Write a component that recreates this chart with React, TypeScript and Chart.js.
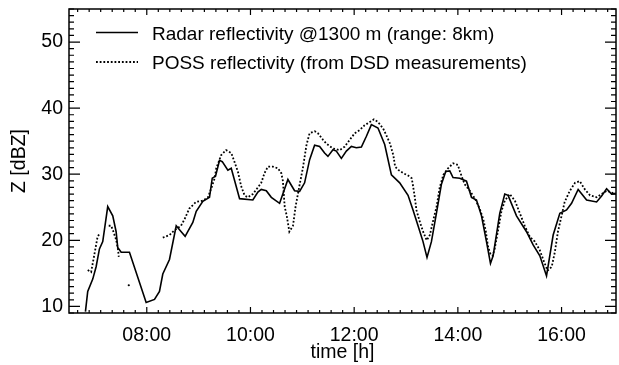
import { useEffect, useRef } from "react";
import { Chart, registerables } from "chart.js";

Chart.register(...registerables);

// ---- data (time in decimal hours, reflectivity in dBZ) ----
const radarTimes = [
  6.817, 6.861, 6.958, 7.023, 7.087, 7.151, 7.247, 7.344, 7.409, 7.44, 7.506, 7.666,
  7.988, 8.149, 8.245, 8.309, 8.438, 8.568, 8.664, 8.74, 8.888, 8.954, 9.081, 9.21,
  9.263, 9.326, 9.403, 9.456, 9.564, 9.629, 9.79, 10.046, 10.143, 10.208, 10.305,
  10.402, 10.562, 10.722, 10.851, 10.948, 11.044, 11.141, 11.237, 11.334, 11.43,
  11.494, 11.591, 11.656, 11.753, 11.849, 11.946, 12.042, 12.139, 12.236, 12.332,
  12.459, 12.589, 12.718, 12.878, 13.039, 13.135, 13.232, 13.328, 13.405, 13.49,
  13.587, 13.683, 13.766, 13.844, 13.907, 14.037, 14.166, 14.263, 14.359, 14.456,
  14.552, 14.629, 14.68, 14.809, 14.905, 14.969, 15.131, 15.324, 15.452, 15.581,
  15.71, 15.838, 15.967, 16.097, 16.193, 16.32, 16.483, 16.676, 16.772, 16.869,
  16.965, 17.048,
];
const radarValues = [
  9.2, 12.25, 14.13, 16.0, 18.7, 19.8, 25.1, 23.7, 21.3, 18.9, 18.2, 18.2,
  10.6, 11.05, 12.25, 14.9, 17.1, 22.2, 21.3, 20.6, 22.7, 24.4, 25.9, 26.5,
  29.4, 29.7, 32.1, 31.9, 30.6, 30.9, 26.3, 26.1, 27.3, 27.7, 27.5,
  26.5, 25.6, 29.2, 27.5, 27.4, 28.7, 32.2, 34.4, 34.2, 33.2,
  32.7, 33.7, 33.5, 32.4, 33.5, 34.2, 34.0, 34.1, 35.75, 37.5,
  37.0, 34.5, 29.9, 28.7, 26.8, 24.6, 22.2, 19.8, 17.4, 19.8,
  24.1, 28.5, 30.4, 30.5, 29.5, 29.4, 28.95, 26.5, 26.1, 23.7,
  19.8, 16.5, 17.65, 24.1, 27.0, 26.8, 23.7, 21.3, 19.3, 17.65,
  14.6, 20.8, 24.1, 24.6, 25.6, 27.7, 26.1, 25.8, 26.7, 27.8,
  27.0, 27.1,
];

const possTimes = [
  6.861, 6.927, 7.023, 7.05, 7.087, 7.17, 7.266, 7.313, 7.357, 7.409, 7.448, 7.46,
  7.55, 7.653, 7.8, 8.309, 8.44, 8.53, 8.66, 8.73, 8.82, 8.95, 9.08, 9.18, 9.25,
  9.31, 9.34, 9.436, 9.53, 9.63, 9.69, 9.757, 9.82, 9.886, 9.95, 10.046, 10.143,
  10.208, 10.27, 10.336, 10.43, 10.53, 10.595, 10.626, 10.66, 10.7, 10.75, 10.82,
  10.87, 10.915, 10.95, 11.01, 11.08, 11.14, 11.24, 11.3, 11.4, 11.46, 11.59,
  11.72, 11.815, 11.91, 12.01, 12.11, 12.2, 12.3, 12.38, 12.46, 12.56, 12.62,
  12.69, 12.755, 12.79, 12.85, 12.95, 13.04, 13.11, 13.14, 13.17, 13.2, 13.27,
  13.33, 13.4, 13.46, 13.53, 13.59, 13.65, 13.72, 13.81, 13.91, 14.0, 14.04,
  14.13, 14.23, 14.33, 14.42, 14.49, 14.54, 14.58, 14.63, 14.67, 14.71, 14.78,
  14.84, 14.905, 15.0, 15.1, 15.195, 15.29, 15.39, 15.485, 15.58, 15.66, 15.73,
  15.81, 15.87, 15.93, 16.0, 16.06, 16.16, 16.26, 16.35, 16.45, 16.55, 16.68,
  16.77, 16.87, 16.97, 17.048,
];
const possValues: (number | null)[] = [
  15.5, 15.2, 19.3, 20.5, 21.0, null, 22.2, 22.2, 21.3, 20.1, 18.5, 17.5,
  null, 13.2, null, 20.4, 20.8, 21.5, 22.2, 23.2, 24.8, 25.8, 26.0, 26.5, 28.0,
  29.4, 30.9, 32.9, 33.65, 33.2, 31.9, 30.4, 28.2, 26.8, 26.5, 27.0, 28.0,
  28.7, 30.15, 31.15, 31.15, 30.9, 30.15, 28.95, 25.1, 23.7, 21.3, 22.2,
  25.1, 27.0, 28.5, 30.9, 34.4, 36.2, 36.5, 36.2, 35.2, 34.65, 33.9,
  33.65, 34.15, 35.15, 36.2, 36.7, 37.4, 37.9, 38.3, 37.9, 36.9, 35.9,
  34.65, 32.9, 31.15, 30.65, 30.15, 29.8, 29.4, 28.0, 26.5, 24.6, 22.7,
  21.3, 20.0, 20.8, 23.2, 25.1, 28.0, 29.9, 30.9, 31.65, 31.4, 30.4,
  28.5, 27.5, 26.3, 24.8, 23.2, 21.3, 19.1, 17.9, 17.65, 18.7, 21.7,
  24.4, 26.0, 27.0, 26.0, 24.1, 22.2, 20.5, 19.8, 18.5, 16.8, 15.4,
  16.0, 18.2, 21.3, 23.7, 25.8, 27.5, 28.7, 28.95, 27.7, 26.8, 26.5,
  27.0, 27.5, 27.2, 27.0,
];

const xTickValues = [8, 10, 12, 14, 16];
const xTickLabels = ["08:00", "10:00", "12:00", "14:00", "16:00"];
const yTickValues = [10, 20, 30, 40, 50];
const yTickLabels = ["10", "20", "30", "40", "50"];
const legendLabels = [
  "Radar reflectivity @1300 m (range: 8km)",
  "POSS reflectivity (from DSD measurements)",
];
const xTitle = "time [h]";
const yTitle = "Z [dBZ]";
const xRange = [6.5, 17.05];
const yRange = [9, 55];

const FONT = "'Liberation Sans', Arial, Helvetica, sans-serif";
const DOT_DASH = [1.8, 1.9];

const framePlugin = {
  id: "frameTicksLegend",
  afterDraw(chart: any) {
    const { ctx, chartArea: a, scales } = chart;
    const xs = scales.x;
    const ys = scales.y;
    ctx.save();
    ctx.strokeStyle = "#000";
    ctx.lineWidth = 1.2;
    // x minor/major ticks (9 minor intervals per 2 h)
    const step = 2 / 9;
    for (let k = Math.ceil((xRange[0] - 8) / step); 8 + k * step <= xRange[1] + 1e-9; k++) {
      const v = 8 + k * step;
      const px = xs.getPixelForValue(v);
      const major = Math.abs(k % 9) === 0;
      const len = major ? 6 : 3;
      ctx.beginPath();
      ctx.moveTo(px, a.bottom);
      ctx.lineTo(px, a.bottom - len);
      ctx.moveTo(px, a.top);
      ctx.lineTo(px, a.top + len);
      ctx.stroke();
    }
    for (let v = Math.ceil(yRange[0]); v <= yRange[1]; v++) {
      const py = ys.getPixelForValue(v);
      const major = v % 10 === 0;
      const len = major ? 11 : 5;
      ctx.beginPath();
      ctx.moveTo(a.left, py);
      ctx.lineTo(a.left + len, py);
      ctx.moveTo(a.right, py);
      ctx.lineTo(a.right - len, py);
      ctx.stroke();
    }
    ctx.lineWidth = 1.5;
    ctx.strokeRect(a.left, a.top, a.right - a.left, a.bottom - a.top);

    // legend
    const rows = [
      { y: 32.5, dash: [] as number[], w: 1.6 },
      { y: 62, dash: DOT_DASH, w: 1.8 },
    ];
    ctx.font = `19px ${FONT}`;
    ctx.fillStyle = "#000";
    ctx.textBaseline = "alphabetic";
    rows.forEach((r, i) => {
      ctx.beginPath();
      ctx.setLineDash(r.dash);
      ctx.lineWidth = r.w;
      ctx.moveTo(a.left + 27, r.y);
      ctx.lineTo(a.left + 69, r.y);
      ctx.stroke();
      ctx.setLineDash([]);
      ctx.fillText(legendLabels[i], a.left + 83, r.y + 7);
    });
    ctx.restore();
  },
};

export default function App() {
  const ref = useRef<HTMLCanvasElement | null>(null);

  useEffect(() => {
    document.body.style.margin = "0";
    const canvas = ref.current;
    if (!canvas) return;
    const radarData = radarTimes.map((t, i) => ({ x: t, y: radarValues[i] }));
    const possData = possTimes.map((t, i) => ({ x: t, y: possValues[i] }));
    const isolated = (i: number) =>
      possValues[i] != null && possValues[i - 1] == null && possValues[i + 1] == null;

    const chart = new Chart(canvas, {
      type: "line",
      data: {
        datasets: [
          {
            label: legendLabels[0],
            data: radarData,
            borderColor: "#000",
            borderWidth: 1.6,
            pointRadius: 0,
            tension: 0,
            spanGaps: false,
          },
          {
            label: legendLabels[1],
            data: possData as any,
            borderColor: "#000",
            backgroundColor: "#000",
            borderWidth: 1.8,
            borderDash: DOT_DASH,
            pointRadius: (c: any) => (isolated(c.dataIndex) ? 1.1 : 0),
            pointBorderWidth: 0,
            tension: 0,
            spanGaps: false,
          },
        ],
      },
      options: {
        responsive: false,
        animation: false,
        events: [],
        layout: { padding: { top: 9, right: 3, left: 0, bottom: 0 } },
        plugins: {
          legend: { display: false },
          tooltip: { enabled: false },
        },
        scales: {
          x: {
            type: "linear",
            min: xRange[0],
            max: xRange[1],
            grid: { display: false, drawTicks: false },
            border: { display: false },
            afterBuildTicks: (s: any) => {
              s.ticks = xTickValues.map((v) => ({ value: v }));
            },
            afterFit: (s: any) => {
              s.height = 52;
              s.paddingLeft = 0;
              s.paddingRight = 0;
            },
            ticks: {
              autoSkip: false,
              maxRotation: 0,
              padding: 11,
              color: "#000",
              font: { family: FONT, size: 19.5 },
              callback: (v: any) => {
                const i = xTickValues.indexOf(Number(v));
                return i >= 0 ? xTickLabels[i] : "";
              },
            },
            title: {
              display: true,
              text: xTitle,
              color: "#000",
              font: { family: FONT, size: 19.5 },
              padding: { top: 0, bottom: 1 },
            },
          },
          y: {
            type: "linear",
            min: yRange[0],
            max: yRange[1],
            grid: { display: false, drawTicks: false },
            border: { display: false },
            afterBuildTicks: (s: any) => {
              s.ticks = yTickValues.map((v) => ({ value: v }));
            },
            afterFit: (s: any) => {
              s.width = 69;
              s.paddingTop = 0;
              s.paddingBottom = 0;
            },
            ticks: {
              autoSkip: false,
              padding: 6,
              color: "#000",
              font: { family: FONT, size: 19.5 },
              callback: (v: any) => {
                const i = yTickValues.indexOf(Number(v));
                return i >= 0 ? yTickLabels[i] : "";
              },
            },
            title: {
              display: true,
              text: yTitle,
              color: "#000",
              font: { family: FONT, size: 19.5 },
              padding: { top: 8, bottom: 0 },
            },
          },
        },
      },
      plugins: [framePlugin],
    });
    return () => chart.destroy();
  }, []);

  return (
    <div style={{ width: 619, height: 365, background: "#fff" }}>
      <canvas ref={ref} width={619} height={365} style={{ display: "block" }} />
    </div>
  );
}
